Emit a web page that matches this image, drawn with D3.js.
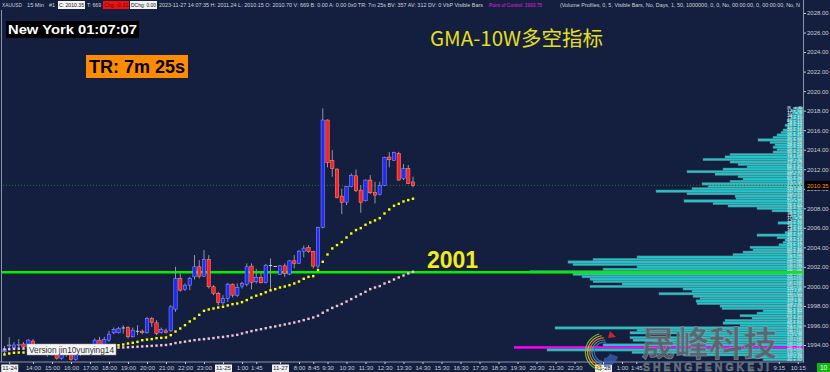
<!DOCTYPE html>
<html>
<head>
<meta charset="utf-8">
<script src="https://cdn.jsdelivr.net/npm/d3@7"></script>
<style>
  body { margin: 0; background: #141e3e; overflow: hidden; }
  svg { display: block; }
</style>
</head>
<body>
<script>
// 15 min bars, Fri 11-24 12:30 .. 11-25 02:45, then Mon 11-27 07:00 .. 14:00
const opens = [1993.3,1993.9,1993.7,1994.0,1994.1,1993.8,1994.4,1993.8,1993.4,1993.2,1993.3,1993.0,1992.65,1993.0,1993.1,1992.5,1993.0,1993.4,1993.6,1993.64,
  1994.5,1993.47,1994.5,1995.25,1995.25,1995.79,1995.79,1994.84,1995.45,1995.42,1995.25,1996.71,1996.27,1995.31,1995.45,1995.45,1997.67,2000.81,1999.69,2000.13,
  2000.98,2002.01,2001.05,2002.76,1999.96,1999.28,1998.32,1998.76,2000.23,1999.10,2000.03,2000.20,2002.08,2000.47,2000.92,2000.40,2002.18,2002.08,
  2001.22,2002.11,2001.26,2002.62,2002.35,2003.58,2003.99,2003.55,2002.08,2006.04,2017.04,2012.87,2012.02,2009.25,2008.63,2010.21,2011.33,2009.86,2008.77,2010.89,
  2009.62,2009.39,2010.34,2013.25,2012.90,2013.62,2011.06,2012.05,2010.70];
const highs = [1993.9,1994.8,1994.3,1994.6,1994.3,1994.6,1994.6,1994.0,1993.7,1993.5,1993.5,1993.3,1993.3,1993.4,1993.3,1993.3,1993.6,1993.8,1994.0,1994.67,
  1994.84,1994.84,1995.45,1995.79,1995.86,1996.03,1995.93,1995.79,1996.03,1995.59,1996.88,1996.88,1996.54,1995.79,1995.69,1998.08,2002.01,2001.33,2000.30,2000.98,
  2003.20,2002.69,2003.72,2003.20,2000.13,1999.45,1999.10,2000.37,2000.30,2000.30,2000.47,2002.35,2002.35,2001.80,2001.39,2002.28,2002.86,2002.12,
  2002.18,2002.35,2002.69,2003.20,2003.72,2004.19,2004.23,2003.65,2006.11,2018.23,2017.10,2013.96,2012.08,2010.00,2010.27,2011.57,2011.98,2010.38,2010.96,2011.40,
  2010.72,2010.72,2013.28,2013.76,2013.79,2013.79,2012.53,2012.43,2011.24];
const lows = [1993.1,1993.5,1993.5,1993.5,1993.6,1993.6,1993.6,1993.3,1993.0,1992.8,1992.9,1992.5,1992.5,1992.8,1992.4,1992.4,1992.9,1993.2,1993.4,1993.30,
  1993.30,1993.30,1994.32,1995.11,1995.18,1995.18,1994.67,1994.77,1995.01,1995.11,1995.18,1995.86,1995.01,1995.18,1995.18,1995.35,1997.40,1999.45,1999.55,1999.62,
  2000.71,2000.81,2000.98,1999.79,1999.10,1998.08,1998.08,1998.42,1998.87,1998.93,1999.79,2000.00,1999.70,2000.30,2000.30,2000.30,1999.60,2002.04,
  2001.16,2000.98,2001.16,2001.84,2002.28,2002.97,2003.44,2001.84,2001.84,2005.94,2012.19,2011.23,2009.01,2007.40,2008.33,2010.14,2009.66,2007.54,2008.70,2009.45,
  2008.50,2009.32,2010.27,2012.19,2012.84,2010.82,2010.89,2010.48,2010.15];
const closes = [1993.6,1994.0,1994.0,1994.05,1993.8,1994.5,1993.8,1993.4,1993.2,1993.3,1993.0,1992.65,1993.0,1993.1,1992.5,1993.0,1993.4,1993.6,1993.7,1994.50,
  1993.64,1994.56,1995.11,1995.59,1995.69,1995.79,1994.84,1995.52,1995.45,1995.25,1996.71,1996.30,1995.18,1995.59,1995.28,1997.91,2000.81,1999.62,2000.13,2000.81,
  2002.01,2001.05,2002.76,1999.96,1999.28,1998.35,1998.76,2000.23,1999.10,1999.89,2000.30,2002.01,2000.40,2000.92,2000.37,2002.18,2002.18,2002.08,
  2002.11,2001.33,2002.62,2002.35,2003.61,2003.92,2003.55,2002.08,2006.04,2017.04,2012.66,2012.08,2009.08,2008.60,2010.21,2011.37,2009.80,2008.57,2010.89,2009.59,
  2009.35,2010.34,2013.21,2012.97,2013.72,2010.89,2012.05,2010.55,2010.35];

// GMA dots: yellow (fast) and pink (slow)
const gmaFast = [1993.03,1993.13,1993.20,1993.23,1993.23,1993.25,1993.27,1993.28,1993.28,1993.27,1993.25,1993.24,1993.24,1993.25,1993.30,1993.38,1993.46,1993.54,1993.62,1993.70,
  1993.77,1993.84,1993.90,1993.95,1993.98,1994.05,1994.15,1994.22,1994.32,1994.49,1994.56,1994.60,1994.70,1994.73,1994.77,1995.01,1995.38,1995.69,1996.03,1996.41,
  1996.71,1997.09,1997.50,1997.64,1997.74,1997.84,1997.91,1998.05,1998.18,1998.25,1998.39,1998.60,1998.85,1999.05,1999.20,1999.40,1999.60,1999.72,
  1999.89,1999.99,2000.13,2000.30,2000.50,2000.78,2000.98,2001.05,2001.67,2002.52,2003.27,2003.89,2004.23,2004.54,2005.01,2005.42,2005.77,2005.97,2006.31,2006.55,
  2006.76,2006.99,2007.47,2007.88,2008.26,2008.46,2008.70,2008.84,2008.98];
const gmaSlow = [1993.54,1993.57,1993.60,1993.62,1993.63,1993.64,1993.65,1993.65,1993.65,1993.64,1993.63,1993.62,1993.62,1993.62,1993.63,1993.64,1993.65,1993.67,1993.68,1993.70,
  1993.71,1993.72,1993.73,1993.74,1993.74,1993.75,1993.77,1993.80,1993.82,1993.85,1993.88,1993.91,1993.94,1993.97,1994.00,1994.08,1994.20,1994.27,1994.34,1994.42,
  1994.50,1994.56,1994.60,1994.65,1994.71,1994.78,1994.83,1994.90,1994.97,1995.04,1995.18,1995.30,1995.42,1995.52,1995.62,1995.72,1995.82,1995.90,
  1996.00,1996.10,1996.20,1996.30,1996.42,1996.55,1996.68,1996.82,1997.00,1997.30,1997.55,1997.80,1998.00,1998.20,1998.45,1998.70,1998.95,1999.20,1999.45,1999.72,
  1999.89,2000.03,2000.30,2000.47,2000.71,2000.92,2001.12,2001.33,2001.50];

// volume profile, one row per 0.25 from 2018.25 down to 1992.50
const profileTop = 2018.25;
const profileStep = 0.25;
const profileVolumes = [8,12,10,14,12,16,14,18,16,20,22,26,30,45,33,28,30,26,30,73,
  78,100,73,65,56,80,116,88,65,60,73,101,95,111,147,116,68,67,119,90,
  75,46,31,14,12,10,12,25,14,12,14,18,46,26,18,20,24,53,50,60,
  70,166,210,235,230,166,200,273,230,221,213,210,181,213,120,111,144,110,103,107,
  106,83,81,40,46,63,51,78,80,63,248,166,173,123,173,170,150,200,289,256,
  171,120,55,40];
const pocPrice = 1993.75;
const lastPrice = 2010.35;
const levelPrice = 2001.45;

const priceTicks = [1994,1996,1998,2000,2002,2004,2006,2008,2010,2012,2014,2016,2018,2020,2022,2024,2026,2028];
const timeTickSlots = [1,6,10,14,18,22,26,30,34,38,42,46,50,53,58,62,65,68,72,76,80,84,88,92,96,100,104,108,112,116,120,126,130,133,163,167];
const timeTickLabels = ['11-24','14:00','15:00','16:00','17:00','18:00','19:00','20:00','21:00','22:00','23:00','11-25','1:00','1:45','11-27','8:00','8:45','9:30','10:30','11:30',
  '12:30','13:30','14:30','15:30','16:30','17:30','18:30','19:30','20:30','21:30','22:30','11-28','1:00','1:45','9:15','10:15'];
const dateLabels = ['11-24','11-25','11-27','11-28'];

const w = 830, h = 372;
const plotRight = 803, plotBottom = 362;
const font = '"Liberation Sans", Arial, sans-serif';

const svg = d3.select('body').append('svg')
  .attr('width', w).attr('height', h)
  .style('font-family', font);

svg.append('rect').attr('width', w).attr('height', h).attr('fill', '#141e3e');

const x = d3.scaleLinear().domain([0, 167]).range([4.5, 797.75]);
const y = d3.scaleLinear().domain([1994, 2028]).range([345, 13]);

svg.append('clipPath').attr('id', 'plotclip')
  .append('rect').attr('x', 2).attr('y', 10).attr('width', plotRight - 2).attr('height', plotBottom - 10);
svg.append('clipPath').attr('id', 'hdrclip')
  .append('rect').attr('x', 0).attr('y', 0).attr('width', plotRight).attr('height', 10);

const plot = svg.append('g').attr('clip-path', 'url(#plotclip)');

// volume profile
const rows = profileVolumes.map((v, i) => ({p: profileTop - i * profileStep, v: v}));
const volX = d3.scaleLinear().domain([0, d3.max(profileVolumes)]).range([0, 289]);
const rowH = Math.abs(y(0) - y(profileStep));

plot.selectAll('.vbar')
  .data(rows)
  .enter().append('rect')
  .attr('class', 'vbar')
  .attr('x', d => plotRight - volX(d.v))
  .attr('y', d => y(d.p) - rowH / 2)
  .attr('width', d => volX(d.v))
  .attr('height', rowH)
  .attr('fill', d => d.p === pocPrice ? '#ff00ff' : '#1fc6c8')
  .attr('stroke', d => d.p === pocPrice ? 'none' : '#5f7486')
  .attr('stroke-width', 0.45);

// the little numbers drawn inside each profile row
plot.selectAll('.vtxt')
  .data(rows)
  .enter().append('text')
  .attr('class', 'vtxt')
  .attr('x', 787)
  .attr('y', d => y(d.p) + 1.2)
  .attr('font-size', 3.4)
  .attr('fill', '#e6ecef')
  .attr('textLength', 15)
  .attr('lengthAdjust', 'spacingAndGlyphs')
  .text(d => d.v + ' x ' + Math.round(d.v * 0.8));

// last price dotted line
plot.append('line')
  .attr('x1', 0).attr('x2', plotRight)
  .attr('y1', y(lastPrice)).attr('y2', y(lastPrice))
  .attr('stroke', '#1f7a3c').attr('stroke-width', 1)
  .attr('stroke-dasharray', '1,2');

// key level
plot.append('line')
  .attr('x1', 0).attr('x2', plotRight)
  .attr('y1', y(levelPrice)).attr('y2', y(levelPrice))
  .attr('stroke', '#00f000').attr('stroke-width', 2.6);

// candles
const bars = opens.map((o, i) => ({i: i, o: o, h: highs[i], l: lows[i], c: closes[i]}));

const candle = plot.selectAll('.candle')
  .data(bars)
  .enter().append('g')
  .attr('class', 'candle');

candle.append('line')
  .attr('x1', d => x(d.i)).attr('x2', d => x(d.i))
  .attr('y1', d => y(d.h)).attr('y2', d => y(d.l))
  .attr('stroke', '#8f96a3').attr('stroke-width', 1);

candle.append('rect')
  .attr('x', d => x(d.i) - 1.7)
  .attr('width', 3.4)
  .attr('y', d => y(Math.max(d.o, d.c)))
  .attr('height', d => Math.max(0.9, Math.abs(y(d.o) - y(d.c))))
  .attr('fill', d => d.c > d.o ? '#1e28ff' : (d.c < d.o ? '#ff1e1e' : '#d8dce4'))
  .attr('stroke', d => d.c > d.o ? '#9aa0ff' : (d.c < d.o ? '#ff9a9a' : 'none'))
  .attr('stroke-width', 0.5);

// GMA dots
plot.selectAll('.slow')
  .data(gmaSlow)
  .enter().append('rect')
  .attr('class', 'slow')
  .attr('x', (d, i) => x(i) - 1.2).attr('y', d => y(d) - 1.2)
  .attr('width', 2.4).attr('height', 2.4)
  .attr('fill', '#f3c4d2');

plot.selectAll('.fast')
  .data(gmaFast)
  .enter().append('rect')
  .attr('class', 'fast')
  .attr('x', (d, i) => x(i) - 1.2).attr('y', d => y(d) - 1.2)
  .attr('width', 2.4).attr('height', 2.4)
  .attr('fill', '#ffff00');

// right price axis
svg.append('line')
  .attr('x1', plotRight + 0.5).attr('x2', plotRight + 0.5)
  .attr('y1', 0).attr('y2', plotBottom)
  .attr('stroke', '#8a93a8');

const yAxis = d3.axisRight(y).tickValues(priceTicks).tickFormat(d3.format('.2f')).tickSize(2).tickPadding(1);
svg.append('g')
  .attr('transform', 'translate(' + (plotRight + 1) + ',0)')
  .call(yAxis)
  .call(g => g.select('.domain').remove())
  .call(g => g.selectAll('line').attr('stroke', '#c9cdd6'))
  .call(g => g.selectAll('text').attr('fill', '#c9cdd6').style('font-size', '6px').style('font-family', font));

// last price tag
svg.append('rect')
  .attr('x', plotRight + 2).attr('y', y(lastPrice) - 4.5)
  .attr('width', 25).attr('height', 9).attr('fill', '#000');
svg.append('text')
  .attr('x', plotRight + 4).attr('y', y(lastPrice) + 2.2)
  .attr('font-size', 6).attr('fill', '#ff9a1a')
  .text(d3.format('.2f')(lastPrice));

// left border and bottom axis
svg.append('line')
  .attr('x1', 1.5).attr('x2', 1.5).attr('y1', 10).attr('y2', plotBottom)
  .attr('stroke', '#8a93a8');

const xAxis = d3.axisBottom(x).tickValues(timeTickSlots)
  .tickFormat((d, i) => timeTickLabels[i]).tickSize(2).tickPadding(1.5);
const xg = svg.append('g')
  .attr('transform', 'translate(0,' + plotBottom + ')')
  .call(xAxis);
xg.select('.domain').attr('stroke', '#8a93a8').attr('d', 'M0,0H' + (plotRight + 1));
xg.selectAll('line').attr('stroke', '#c9cdd6');
xg.selectAll('text').attr('fill', '#c9cdd6').style('font-size', '6px').style('font-family', font);
xg.selectAll('.tick').filter((d, i) => dateLabels.includes(timeTickLabels[i]))
  .each(function() {
    const t = d3.select(this);
    t.insert('rect', 'text')
      .attr('x', -8.5).attr('y', 2.5).attr('width', 17).attr('height', 7.5)
      .attr('fill', '#f2f2f2');
    t.select('text').attr('fill', '#1a2240');
  });

svg.append('rect').attr('x', 817).attr('y', 363).attr('width', 13).attr('height', 9).attr('fill', '#10b810');
svg.append('text').attr('x', 823.5).attr('y', 370).attr('text-anchor', 'middle')
  .attr('font-size', 6.5).attr('fill', '#fff').text('10');

// header line
const header = [
  {t: 'XAUUSD', x: 2, len: 20, fill: '#d0d4dc'},
  {t: '15 Min', x: 27, len: 17, fill: '#d0d4dc'},
  {t: '#1', x: 49, len: 6, fill: '#d0d4dc'},
  {t: 'C: 2010.35', x: 59, len: 25, fill: '#111', bg: '#f4f4f4'},
  {t: 'T: 669', x: 87, len: 14, fill: '#d0d4dc'},
  {t: 'Chg: -0.31', x: 104, len: 24, fill: '#6a0000', bg: '#ee1111'},
  {t: 'DChg: 0.00', x: 131, len: 25, fill: '#111', bg: '#f4f4f4'},
  {t: '2023-11-27 14:07:35 H: 2011.24 L: 2010.15 O: 2010.70 V: 669 B: 0.00 A: 0.00 0x0 TR: 7m 25s BV: 357 AV: 312 DV: 0 VbP Visible Bars', x: 159, len: 324, fill: '#d0d4dc'},
  {t: 'Point of Control: 1993.75', x: 489, len: 53, fill: '#e020e0'},
  {t: '(Volume Profiles, 0, 5, Visible Bars, No, Days, 1, 50, 1000000, 0, 0, No, 00:00:00, 0, 00:00:00, No, N', x: 560, len: 240, fill: '#d0d4dc'}
];
const hdr = svg.append('g').attr('clip-path', 'url(#hdrclip)');
header.filter(d => d.bg).forEach(d => {
  hdr.append('rect').attr('x', d.x - 1).attr('y', 1).attr('width', d.len + 2).attr('height', 8).attr('fill', d.bg);
});
hdr.selectAll('.hdr')
  .data(header)
  .enter().append('text')
  .attr('class', 'hdr')
  .attr('x', d => d.x).attr('y', 7.3)
  .attr('font-size', 6.2)
  .attr('fill', d => d.fill)
  .attr('textLength', d => d.len)
  .attr('lengthAdjust', 'spacingAndGlyphs')
  .text(d => d.t);

// labels on chart
svg.append('rect').attr('x', 6).attr('y', 21).attr('width', 133).attr('height', 17).attr('fill', '#000');
svg.append('text').attr('x', 8).attr('y', 34)
  .attr('font-size', 13.5).attr('font-weight', 'bold').attr('fill', '#fff')
  .attr('textLength', 129).attr('lengthAdjust', 'spacingAndGlyphs')
  .text('New York 01:07:07');

svg.append('rect').attr('x', 86).attr('y', 55).attr('width', 102).attr('height', 23).attr('fill', '#ff8c00');
svg.append('text').attr('x', 89).attr('y', 73)
  .attr('font-size', 18).attr('font-weight', 'bold').attr('fill', '#000')
  .text('TR: 7m 25s');

svg.append('text').attr('x', 430).attr('y', 46)
  .attr('font-size', 20.5).attr('fill', '#e6de1c')
  .style('font-family', '"Noto Sans CJK SC", "Noto Sans", sans-serif')
  .text('GMA-10W多空指标');

svg.append('text').attr('x', 427).attr('y', 268)
  .attr('font-size', 23).attr('font-weight', 'bold').attr('fill', '#f2ec1a')
  .text('2001');

svg.append('rect').attr('x', 27).attr('y', 344).attr('width', 89).attr('height', 11)
  .attr('fill', '#f6f6f6').attr('stroke', '#9a9a9a').attr('stroke-width', 0.5);
svg.append('text').attr('x', 29).attr('y', 352.5)
  .attr('font-size', 8.6).attr('fill', '#333')
  .attr('textLength', 85).attr('lengthAdjust', 'spacingAndGlyphs')
  .text('Version jin10yunying14');

// watermark
const logo = svg.append('g').attr('transform', 'translate(604,352)').attr('opacity', 0.9);
const arcColors = ['#7cc242', '#e3c22a', '#e8872a', '#3fa7b5', '#4a6fc4'];
arcColors.forEach((c, i) => {
  logo.append('path')
    .attr('d', d3.arc()({innerRadius: 18 - i * 2.2, outerRadius: 19.2 - i * 2.2, startAngle: -Math.PI * 0.95, endAngle: -Math.PI * 0.08 + i * 0.12}))
    .attr('fill', c);
});
logo.append('path')
  .attr('d', d3.arc()({innerRadius: 6, outerRadius: 15, startAngle: Math.PI * 0.6, endAngle: Math.PI * 1.0}))
  .attr('fill', '#3f63b8').attr('opacity', 0.8);
logo.append('path').attr('d', 'M6,-21 L12,-15 L4,-14 Z').attr('fill', '#d42a2a');

svg.append('text').attr('x', 641).attr('y', 356)
  .attr('font-size', 34).attr('font-weight', 'bold')
  .attr('fill', '#56646d').attr('stroke', '#8f9ba2').attr('stroke-width', 0.5)
  .attr('fill-opacity', 0.92)
  .style('font-family', '"Noto Sans CJK SC", sans-serif')
  .attr('textLength', 136).attr('lengthAdjust', 'spacingAndGlyphs')
  .text('晟峰科技');

svg.append('text').attr('x', 643).attr('y', 371)
  .attr('font-size', 10.5).attr('font-weight', 'bold')
  .attr('fill', '#56646d').attr('stroke', '#8f9ba2').attr('stroke-width', 0.3)
  .attr('textLength', 126).attr('lengthAdjust', 'spacing')
  .text('SHENGFENGKEJI');
</script>
</body>
</html>
